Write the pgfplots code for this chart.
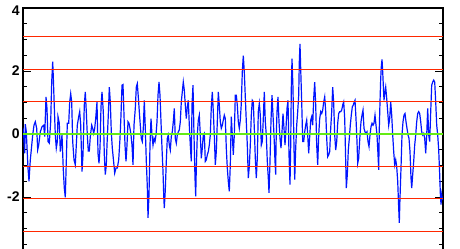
\documentclass[border=0pt]{standalone}
\usepackage{fontspec}
\setmainfont{Liberation Sans}
\usepackage{pgfplots}
\pgfplotsset{compat=1.18}
\definecolor{refred}{RGB}{255,40,0}
\definecolor{refgreen}{RGB}{100,235,20}
\definecolor{refblue}{RGB}{0,20,255}
\begin{document}
\begin{tikzpicture}
\begin{axis}[
  at={(0pt,0pt)}, anchor=south west,
  scale only axis, width=210pt, height=126pt,
  xmin=0, xmax=420, ymin=-4, ymax=4,
  axis line style={line width=0.9pt},
  xtick=\empty, minor xtick={0,21,...,420}, xtick pos=right,
  ytick={-4,-2,0,2,4}, yticklabels={{},-2,0,2,\raisebox{-3.7pt}[0pt][0pt]{4}},
  minor ytick={-3.5,-3,-2.5,-1.5,-1,-0.5,0.5,1,1.5,2.5,3,3.5},
  tick align=inside, major tick length=4pt, minor tick length=2pt,
  tick style={black, line width=0.5pt},
  yticklabel style={font=\bfseries\fontsize{7}{8}\selectfont, inner sep=1.5pt},
  /pgf/number format/assume math mode=true,
]
\addplot[refblue, line width=0.6pt, sharp plot, mark=none] coordinates {
(0,0.2)(0.7,-0.03)(1.7,-0.61)(2.3,0.31)(3.3,0.07)(5,-1.08)(6,-1.5)(7.3,-0.82)(8.3,-0.5)(9.7,-0.03)
(11,0.28)(12.3,0.39)(13.7,0.18)(14.7,-0.5)(15.7,-0.35)(17.3,0.07)(19,0.23)(20.7,0.28)(21.7,-0.08)(23,1.18)
(24,0.81)(25,-0.24)(26.3,-0.29)(27.7,0.39)(28.7,1.65)(29.7,2.3)(30.3,1.81)(31.3,0.86)(32.3,-0.03)(33.3,-0.45)
(34.3,-0.24)(35,0.55)(36.3,0.34)(37.3,-0.56)(39,-0.03)(40.3,-1.14)(41.3,-1.72)(42.3,-2.01)(43.3,-0.87)(44.3,0.34)
(45.7,0.34)(46.7,1.02)(47.7,1.28)(48.7,1.02)(49.7,-0.24)(51,-0.82)(52.3,-0.98)(53.3,-0.35)(54.3,0.28)(55.7,0.55)
(56.7,0.71)(57.7,0.28)(59,-1.19)(60,-0.66)(61.3,0.92)(62.3,1.34)(63.3,0.71)(64.3,-0.03)(65.3,-0.54)(66.3,-0.54)
(67.3,-0.08)(68.7,0.28)(69.7,0.18)(70.7,0.02)(71.7,0.18)(72.7,0.49)(74,1.02)(75,-0.61)(76,-0.93)(77,-0.45)
(78,0.86)(79,1.34)(80.3,0.71)(81.3,-0.66)(82.3,-1.29)(83.3,-0.98)(84,-0.35)(85.3,0.6)(86.3,1.49)(87.3,1.02)
(88.3,0.07)(89.3,-0.45)(90.3,-0.77)(91.7,-1.24)(93,-1.08)(94.3,-1.08)(95.7,-0.82)(97,-0.14)(98,0.6)(99,1.55)
(100,1.57)(101,0.6)(102,-0.35)(103,-0.87)(104,-0.35)(105,0.39)(106,0.34)(107,0.18)(108,-0.03)(109,-0.35)
(110,-0.98)(111,0.28)(112.3,0.81)(113.3,1.49)(114.3,1.6)(115.3,1.18)(116.3,0.71)(117.3,0.28)(118.3,-0.14)(119.3,-0.24)
(120.3,0.18)(121.3,1.07)(122.3,0.18)(123.3,-0.87)(124.3,-1.66)(125,-2.66)(126,-1.93)(127,-0.35)(128,0.49)(129,-0.03)
(130,-0.35)(131,-0.14)(132,-0.24)(133,-0.03)(134,0.39)(135,1.23)(136,1.65)(137,1.23)(138,0.39)(139,-0.45)
(140,-1.19)(140.7,-1.93)(141.3,-2.35)(142.3,-1.77)(143.3,-0.87)(144.3,-0.14)(145.3,-0.03)(146.3,-0.35)(147.3,-0.51)(148.3,-0.08)
(149.3,0.07)(150.3,0.39)(151.3,0.81)(152.3,-0.14)(153.3,-0.29)(154.3,-0.03)(155.3,0.07)(156.3,0.13)(157.3,0.39)(158.3,1.02)
(159.3,1.34)(160.3,1.65)(161.3,1.39)(162.3,0.92)(163.3,0.49)(164.3,0.86)(165.3,1.07)(166.3,0.28)(167.3,-0.35)(168.3,-0.87)
(169,0.92)(170,1.55)(171,-0.03)(172,-1.4)(172.7,-1.98)(173.3,-1.08)(174.3,-0.03)(175.3,0.44)(176.3,0.6)(177.3,-0.03)
(178.3,-0.77)(179.3,-0.45)(180.3,-0.03)(181.3,0.02)(182.3,-0.87)(183.3,-0.82)(184.3,-0.66)(185.3,-0.56)(186.3,-0.35)(187.3,-0.03)
(188.3,0.86)(189.3,1.34)(190.3,0.71)(191.3,-0.03)(192.3,-0.98)(193.3,-0.56)(194.3,0.39)(195.3,1.34)(196.3,0.92)(197.3,0.39)
(198.3,0.18)(199.3,0.28)(200.3,0.44)(201.3,0.6)(202.3,0.49)(203.3,-0.45)(204.3,-1.08)(205.3,-1.5)(206.3,-1.82)(207.3,-0.98)
(208.3,0.55)(209.3,-0.03)(210.3,-0.66)(211.3,-0.03)(212.3,1.23)(213.3,1.23)(214.3,0.92)(215.3,0.39)(216.3,0.18)(217.3,0.44)
(218.3,0.97)(219.3,1.97)(220.3,2.49)(221.3,1.97)(222.3,1.18)(223.3,0.39)(224.3,-0.35)(225.3,-1.4)(226.3,-1.03)(227.3,-0.35)
(228.3,0.6)(229.3,1.07)(230.3,1.02)(231.3,0.18)(232.3,-0.77)(233.3,-1.4)(234.3,-0.77)(235.3,0.71)(236.3,0.97)(237.3,0.6)
(238.3,-0.35)(239.3,-0.24)(240.3,0.49)(241.3,1.34)(242.3,0.39)(243.3,-0.03)(244.3,-0.87)(245.3,-1.4)(246,-1.87)(247,-0.87)
(248,0.44)(249,1.23)(250,0.6)(251,-0.03)(252,-0.87)(252.7,-1.29)(253,-0.35)(254,0.71)(255,1.18)(256,0.39)
(257,-0.14)(258,-0.45)(259,0.07)(260,0.65)(261,0.18)(262,-0.35)(263,0.18)(264,0.81)(265,1.07)(266,-0.66)
(267,-1.61)(267.7,-0.35)(268.3,1.44)(269,2.39)(270,1.44)(271,-0.45)(271.7,-1.45)(272.7,-0.45)(273.7,0.28)(274.7,0.71)
(275.7,1.23)(276.3,2.28)(277,2.86)(277.7,2.07)(278.7,1.02)(279.7,-0.24)(280.7,-0.24)(281.7,0.07)(282.7,0.28)(283.7,0.44)
(284.7,-0.03)(285.7,-0.61)(286.7,-0.08)(287.7,0.44)(288.7,0.55)(289.7,0.28)(290.7,1.13)(291.7,1.65)(292.7,0.92)(293.7,-0.35)
(294.7,-0.98)(295.7,-0.03)(296.7,0.49)(297.7,0.71)(298.7,0.65)(299.7,0.76)(300.7,1.02)(301.7,1.18)(302.7,0.71)(303.7,-0.14)
(304.7,-0.72)(305.7,-0.66)(306.7,-0.56)(307.7,0.18)(308.7,0.71)(309.7,1.49)(310.7,0.97)(311.7,-0.03)(312.7,-0.51)(313.7,-0.24)
(314.7,0.34)(315.7,0.65)(316.7,0.71)(317.7,0.71)(318.7,0.76)(319.7,0.92)(320.7,1.02)(321.7,0.49)(322.7,-0.87)(323.3,-1.72)
(324.3,-1.29)(325.3,-0.51)(326.3,-0.14)(327.3,0.28)(328.3,0.6)(329.3,0.86)(330.3,0.92)(331.3,1.02)(332,1.07)(333,0.49)
(334,-0.24)(334.7,-0.93)(335.7,-0.77)(336,-0.56)(337,-0.03)(338,0.39)(339,0.6)(340,0.76)(341,0.18)(342,0.07)
(343,0.02)(344,0.07)(345,-0.24)(346,-0.4)(347,-0.03)(348,0.23)(349,0.34)(350,0.28)(351,0.34)(352,0.6)
(353,0.28)(354,-0.03)(355,-0.66)(355.7,-1.14)(356.3,0.18)(357,1.02)(357.7,1.76)(358.3,2.13)(359,2.37)(359.7,1.97)
(360.3,1.55)(361,1.07)(361.7,1.28)(362.7,1.49)(363.7,1.13)(364.7,0.71)(365.7,0.28)(366.7,0.49)(367.7,1.02)(368.7,0.6)
(369.7,-0.03)(370.7,-0.56)(371.7,-0.98)(372.7,-0.82)(373.7,-1.03)(374.7,-1.5)(375.7,-2.35)(376.3,-2.82)(377,-2.03)(378,-1.08)
(379,-0.03)(380,0.39)(381,0.6)(382,0.65)(383,0.39)(384,0.18)(385,-0.03)(386,-0.14)(387,-0.56)(388,-1.4)
(388.7,-1.72)(389.7,-1.29)(390.7,-0.87)(391.7,-0.35)(392.7,-0.03)(393.7,0.39)(394.7,0.65)(395.7,0.71)(396.7,0.65)(397.7,0.39)
(398.7,0.07)(399.7,-0.03)(400.7,0.02)(401.7,-0.14)(402.7,-0.61)(403.7,-0.03)(404.7,0.81)(405.7,-0.03)(406.7,-0.24)(407.7,0.71)
(408.7,1.55)(409.7,1.65)(410.7,1.71)(411.7,1.65)(412.7,1.02)(413.7,0.28)(414.7,-0.03)(415.7,-0.51)(416.7,-1.29)(417.3,-1.87)
(418,-2.24)(418.7,-1.93)(419.5,-2.1)
};
\addplot[refred, line width=0.55pt, mark=none] coordinates {(0,3.09)(420,3.09)};
\addplot[refred, line width=0.55pt, mark=none] coordinates {(0,2.06)(420,2.06)};
\addplot[refred, line width=0.55pt, mark=none] coordinates {(0,1.03)(420,1.03)};
\addplot[refred, line width=0.55pt, mark=none] coordinates {(0,-1.03)(420,-1.03)};
\addplot[refred, line width=0.55pt, mark=none] coordinates {(0,-2.06)(420,-2.06)};
\addplot[refred, line width=0.55pt, mark=none] coordinates {(0,-3.09)(420,-3.09)};
\addplot[refgreen, line width=1.4pt, mark=none] coordinates {(0,0)(420,0)};
\end{axis}
\pgfresetboundingbox
\useasboundingbox (-11.5pt,6pt) rectangle (218.5pt,130pt);
\end{tikzpicture}
\end{document}
